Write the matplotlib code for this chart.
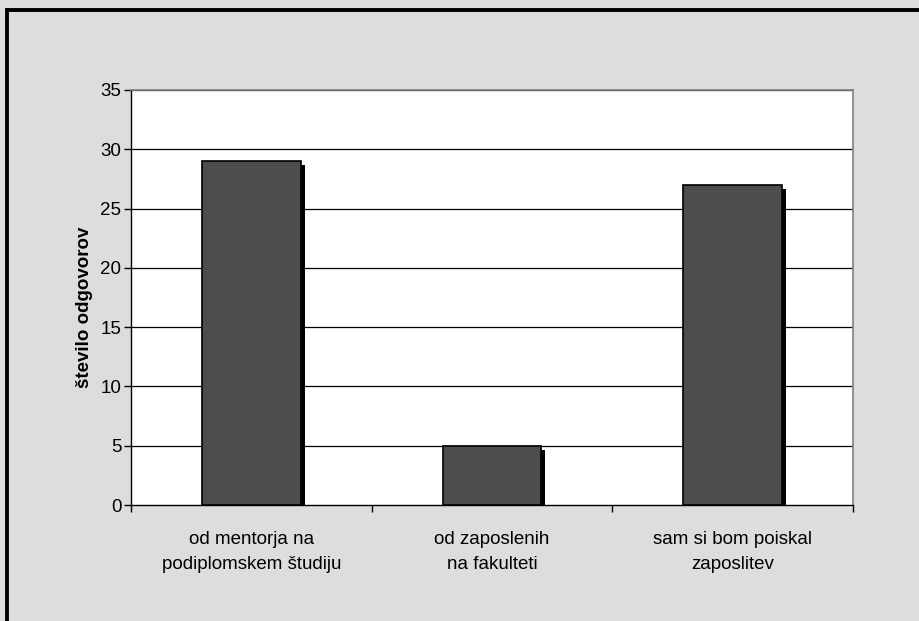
import numpy as np
import matplotlib.pyplot as plt
from matplotlib.patches import Rectangle

plt.rcParams['font.family'] = ['Liberation Sans', 'DejaVu Sans']

categories = ["od mentorja na\npodiplomskem študiju",
              "od zaposlenih\nna fakulteti",
              "sam si bom poiskal\nzaposlitev"]
values = [29, 5, 27]
yticks = [0, 5, 10, 15, 20, 25, 30, 35]

W, H = 919, 621
fig = plt.figure(figsize=(W / 100, H / 100), dpi=100)
fig.patch.set_facecolor('#DDDDDD')

# chart object frame, only left and top edges fall inside the image
fig.add_artist(Rectangle((7 / W, -0.1), 1.2, 1.1 - 10 / H, fill=False,
                         edgecolor='black', lw=2.8, transform=fig.transFigure))

ax = fig.add_axes([131 / W, 1 - 505 / H, (853 - 131) / W, (505 - 90) / H])
ax.set_facecolor('white')

x = np.arange(len(categories))
width = 0.41
ax.set_xlim(-0.5, len(categories) - 0.5)
ax.set_ylim(0, 35)

for v in yticks[1:]:
    ax.axhline(v, color='black', lw=0.9, zorder=1)

# shadow offset in data units (about 4 px)
dx = 4 / (853 - 131) * 3
dy = 4 / (505 - 90) * 35
for xi, v in zip(x, values):
    ax.add_patch(Rectangle((xi - width / 2 + dx, 0), width, v - dy,
                           facecolor='black', edgecolor='none', zorder=2))
ax.bar(x, values, width=width, color='#4D4D4D', edgecolor='black', lw=1.2, zorder=3)

fs = 13.5
ax.set_yticks(yticks)
ax.set_yticklabels([str(t) for t in yticks], fontsize=fs)
ax.set_xticks([-0.5, 0.5, 1.5, 2.5])
ax.set_xticklabels([])
ax.set_xticks(x, minor=True)
ax.set_xticklabels(categories, minor=True, fontsize=fs, linespacing=1.55)
ax.tick_params(axis='x', which='minor', length=0, pad=19)
ax.tick_params(axis='x', which='major', direction='out', length=5, width=1)
ax.tick_params(axis='y', direction='out', length=5, width=1, pad=2)

ax.set_ylabel('število odgovorov', fontsize=fs, fontweight='bold')
ax.yaxis.set_label_coords(-0.052, 0.477)

for s in ['top', 'right']:
    ax.spines[s].set_color('#808080')
    ax.spines[s].set_linewidth(1.2)
for s in ['left', 'bottom']:
    ax.spines[s].set_color('black')
    ax.spines[s].set_linewidth(1)

fig.savefig('out.png', dpi=100, facecolor=fig.get_facecolor())
